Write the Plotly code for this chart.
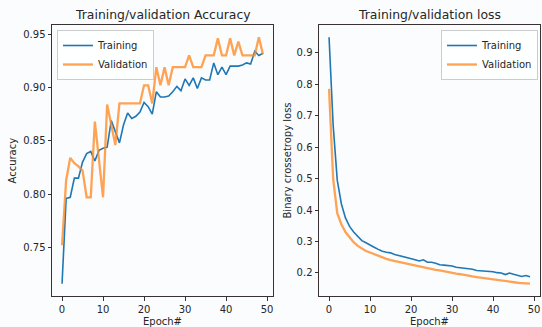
import plotly.graph_objects as go

epochs = list(range(50))

acc_train = [0.716, 0.796, 0.797, 0.815, 0.815, 0.830, 0.838, 0.840, 0.831, 0.841,
             0.843, 0.844, 0.869, 0.859, 0.848, 0.865, 0.876, 0.871, 0.873, 0.877,
             0.886, 0.882, 0.875, 0.896, 0.891, 0.891, 0.892, 0.896, 0.901, 0.897,
             0.908, 0.902, 0.909, 0.899, 0.909, 0.907, 0.907, 0.923, 0.912, 0.919,
             0.912, 0.920, 0.920, 0.920, 0.921, 0.923, 0.922, 0.934, 0.930, 0.932]

acc_val = [0.752, 0.813, 0.834, 0.829, 0.826, 0.822, 0.797, 0.797, 0.868, 0.832,
           0.797, 0.884, 0.866, 0.846, 0.885, 0.885, 0.885, 0.885, 0.885, 0.885,
           0.902, 0.902, 0.885, 0.919, 0.902, 0.919, 0.902, 0.919, 0.919, 0.919,
           0.919, 0.930, 0.919, 0.919, 0.919, 0.930, 0.930, 0.930, 0.946, 0.930,
           0.930, 0.946, 0.930, 0.943, 0.930, 0.930, 0.930, 0.930, 0.947, 0.931]

loss_train = [0.949, 0.670, 0.495, 0.420, 0.375, 0.348, 0.330, 0.315, 0.303, 0.296,
              0.288, 0.282, 0.275, 0.269, 0.266, 0.264, 0.259, 0.256, 0.252, 0.248,
              0.245, 0.242, 0.238, 0.242, 0.234, 0.234, 0.231, 0.226, 0.225, 0.224,
              0.222, 0.218, 0.217, 0.216, 0.213, 0.212, 0.208, 0.207, 0.207, 0.206,
              0.204, 0.201, 0.200, 0.195, 0.200, 0.196, 0.193, 0.189, 0.192, 0.188]

loss_val = [0.785, 0.500, 0.390, 0.355, 0.330, 0.313, 0.298, 0.286, 0.277, 0.270,
            0.265, 0.260, 0.253, 0.249, 0.245, 0.241, 0.238, 0.235, 0.232, 0.229,
            0.226, 0.224, 0.221, 0.219, 0.216, 0.213, 0.210, 0.208, 0.205, 0.203,
            0.200, 0.198, 0.196, 0.193, 0.191, 0.189, 0.187, 0.185, 0.183, 0.181,
            0.179, 0.177, 0.176, 0.174, 0.172, 0.171, 0.169, 0.168, 0.167, 0.166]

x_ticks = [0, 10, 20, 30, 40, 50]
acc_ticks = [0.75, 0.80, 0.85, 0.90, 0.95]
acc_tick_text = ["0.75", "0.80", "0.85", "0.90", "0.95"]
loss_ticks = [0.2, 0.3, 0.4, 0.5, 0.6, 0.7, 0.8, 0.9]
loss_tick_text = ["0.2", "0.3", "0.4", "0.5", "0.6", "0.7", "0.8", "0.9"]

BLUE = "#1f77b4"
ORANGE = "rgba(255,140,40,0.8)"
BG = "#fafcfe"
SPINE = "#3a3232"
FONT = "DejaVu Sans"
W, H = 542, 327


def pad_range(*series):
    lo = min(min(s) for s in series)
    hi = max(max(s) for s in series)
    m = (hi - lo) * 0.05
    return [lo - m, hi + m]


fig = go.Figure()
fig.add_trace(go.Scatter(x=epochs, y=acc_train, mode="lines", name="Training",
                         line=dict(color=BLUE, width=1.6), xaxis="x", yaxis="y",
                         legend="legend"))
fig.add_trace(go.Scatter(x=epochs, y=acc_val, mode="lines", name="Validation",
                         line=dict(color=ORANGE, width=2.3), xaxis="x", yaxis="y",
                         legend="legend"))
fig.add_trace(go.Scatter(x=epochs, y=loss_train, mode="lines", name="Training",
                         line=dict(color=BLUE, width=1.6), xaxis="x2", yaxis="y2",
                         legend="legend2"))
fig.add_trace(go.Scatter(x=epochs, y=loss_val, mode="lines", name="Validation",
                         line=dict(color=ORANGE, width=2.3), xaxis="x2", yaxis="y2",
                         legend="legend2"))

left_dom = [52 / W, 273 / W]
right_dom = [319 / W, 540 / W]
y_dom = [(H - 296) / H, (H - 25) / H]

axis_common = dict(showgrid=False, zeroline=False, showline=True, mirror=True,
                   linecolor=SPINE, linewidth=1, ticks="outside", ticklen=3.5,
                   tickwidth=0.8, tickcolor=SPINE,
                   tickfont=dict(family=FONT, size=10, color="#262626"))

xr = [-0.05 * 49, 49 * 1.05]

fig.update_layout(
    width=W, height=H,
    margin=dict(l=0, r=0, t=0, b=0),
    paper_bgcolor=BG, plot_bgcolor=BG,
    font=dict(family=FONT, size=10, color="#262626"),
    xaxis=dict(domain=left_dom, range=xr, tickvals=x_ticks, anchor="y", **axis_common),
    yaxis=dict(domain=y_dom, range=pad_range(acc_train, acc_val), tickvals=acc_ticks,
               ticktext=acc_tick_text, anchor="x", **axis_common),
    xaxis2=dict(domain=right_dom, range=xr, tickvals=x_ticks, anchor="y2", **axis_common),
    yaxis2=dict(domain=y_dom, range=pad_range(loss_train, loss_val), tickvals=loss_ticks,
                ticktext=loss_tick_text, anchor="x2", **axis_common),
    legend=dict(x=57 / W, y=(H - 30) / H, xanchor="left", yanchor="top",
                bgcolor="rgba(255,255,255,0.8)", bordercolor="#cccccc", borderwidth=1,
                font=dict(family=FONT, size=10, color="#262626"),
                itemwidth=30, tracegroupgap=0),
    legend2=dict(x=538 / W, y=(H - 30) / H, xanchor="right", yanchor="top",
                 bgcolor="rgba(255,255,255,0.8)", bordercolor="#cccccc", borderwidth=1,
                 font=dict(family=FONT, size=10, color="#262626"),
                 itemwidth=30, tracegroupgap=0),
    showlegend=True,
)

ann_font = dict(family=FONT, size=10, color="#262626")
title_font = dict(family=FONT, size=12.4, color="#262626")
lc = (left_dom[0] + left_dom[1]) / 2
rc = (right_dom[0] + right_dom[1]) / 2
fig.add_annotation(text="Training/validation Accuracy", x=lc, y=(H - 15) / H,
                   xref="paper", yref="paper", showarrow=False, font=title_font,
                   xanchor="center", yanchor="middle")
fig.add_annotation(text="Training/validation loss", x=rc, y=(H - 15) / H,
                   xref="paper", yref="paper", showarrow=False, font=title_font,
                   xanchor="center", yanchor="middle")
fig.add_annotation(text="Epoch#", x=lc, y=(H - 321) / H, xref="paper", yref="paper",
                   showarrow=False, font=ann_font, xanchor="center", yanchor="middle")
fig.add_annotation(text="Epoch#", x=rc, y=(H - 321) / H, xref="paper", yref="paper",
                   showarrow=False, font=ann_font, xanchor="center", yanchor="middle")
fig.add_annotation(text="Accuracy", x=12 / W, y=(y_dom[0] + y_dom[1]) / 2,
                   xref="paper", yref="paper", showarrow=False, font=ann_font,
                   textangle=-90, xanchor="center", yanchor="middle")
fig.add_annotation(text="Binary crossetropy loss", x=287 / W, y=(y_dom[0] + y_dom[1]) / 2,
                   xref="paper", yref="paper", showarrow=False, font=ann_font,
                   textangle=-90, xanchor="center", yanchor="middle")

fig.write_html("out.html")
